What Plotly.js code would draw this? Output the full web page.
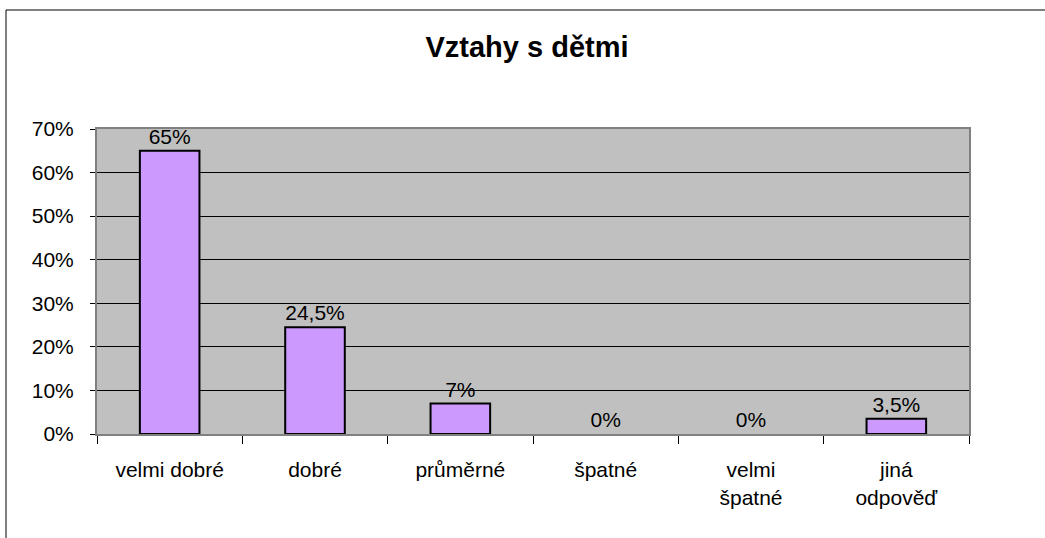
<!DOCTYPE html>
<html>
<head>
<meta charset="utf-8">
<script src="https://cdn.plot.ly/plotly-3.0.1.min.js"></script>
<style>
html,body{margin:0;padding:0;background:#fff;}
#chart{width:1045px;height:538px;}
</style>
</head>
<body>
<div id="chart"></div>
<script>
// Data
const categories = ["velmi dobré", "dobré", "průměrné", "špatné", "velmi<br>špatné", "jiná<br>odpověď"];
const values = [65, 24.5, 7, 0, 0, 3.5];
const yTickVals = [0, 10, 20, 30, 40, 50, 60, 70];
const yTickText = ["0%", "10%", "20%", "30%", "40%", "50%", "60%", "70%"];
const labels = values.map(v => String(v).replace('.', ',') + '%');

const font = "Liberation Sans, Arial, sans-serif";

const trace = {
  type: 'bar',
  x: categories,
  y: values,
  text: labels,
  textposition: 'outside',
  textfont: {family: font, size: 21, color: '#000'},
  cliponaxis: false,
  width: 0.41,
  marker: {color: '#CC99FF', line: {color: '#000', width: values.map(v => v > 0 ? 2 : 0)}},
  hoverinfo: 'none'
};

const layout = {
  width: 1045, height: 538,
  margin: {l: 97, r: 76, t: 129, b: 104},
  paper_bgcolor: '#fff',
  plot_bgcolor: '#C0C0C0',
  showlegend: false,
  title: {
    text: '<b>Vztahy s dětmi</b>',
    font: {family: font, size: 29, color: '#000'},
    x: 527/1045, xanchor: 'center', xref: 'container',
    y: 1 - 47/538, yanchor: 'middle', yref: 'container'
  },
  xaxis: {
    type: 'category',
    tickson: 'boundaries',
    ticks: 'outside', ticklen: 8, tickcolor: '#000', tickwidth: 1,
    ticklabelstandoff: 16,
    tickfont: {family: font, size: 21, color: '#000'},
    showline: true, linecolor: '#808080', linewidth: 2, mirror: true,
    showgrid: false, zeroline: false, fixedrange: true
  },
  yaxis: {
    range: [0, 70],
    tickmode: 'array',
    tickvals: yTickVals,
    ticktext: yTickText,
    ticks: 'outside', ticklen: 5, tickcolor: '#000', tickwidth: 1,
    ticklabelstandoff: 12,
    tickfont: {family: font, size: 21, color: '#000'},
    showline: true, linecolor: '#808080', linewidth: 2, mirror: true,
    showgrid: true, gridcolor: '#000', gridwidth: 1,
    zeroline: false, fixedrange: true
  },
  shapes: [{
    type: 'rect', xref: 'paper', yref: 'paper',
    x0: (6 - 97) / 872, x1: 1.3,
    y0: -0.6, y1: (434 - 10) / 305,
    line: {color: '#000', width: 1}, fillcolor: 'rgba(0,0,0,0)', layer: 'below'
  }]
};

Plotly.newPlot('chart', [trace], layout, {staticPlot: true, displayModeBar: false});
</script>
</body>
</html>
